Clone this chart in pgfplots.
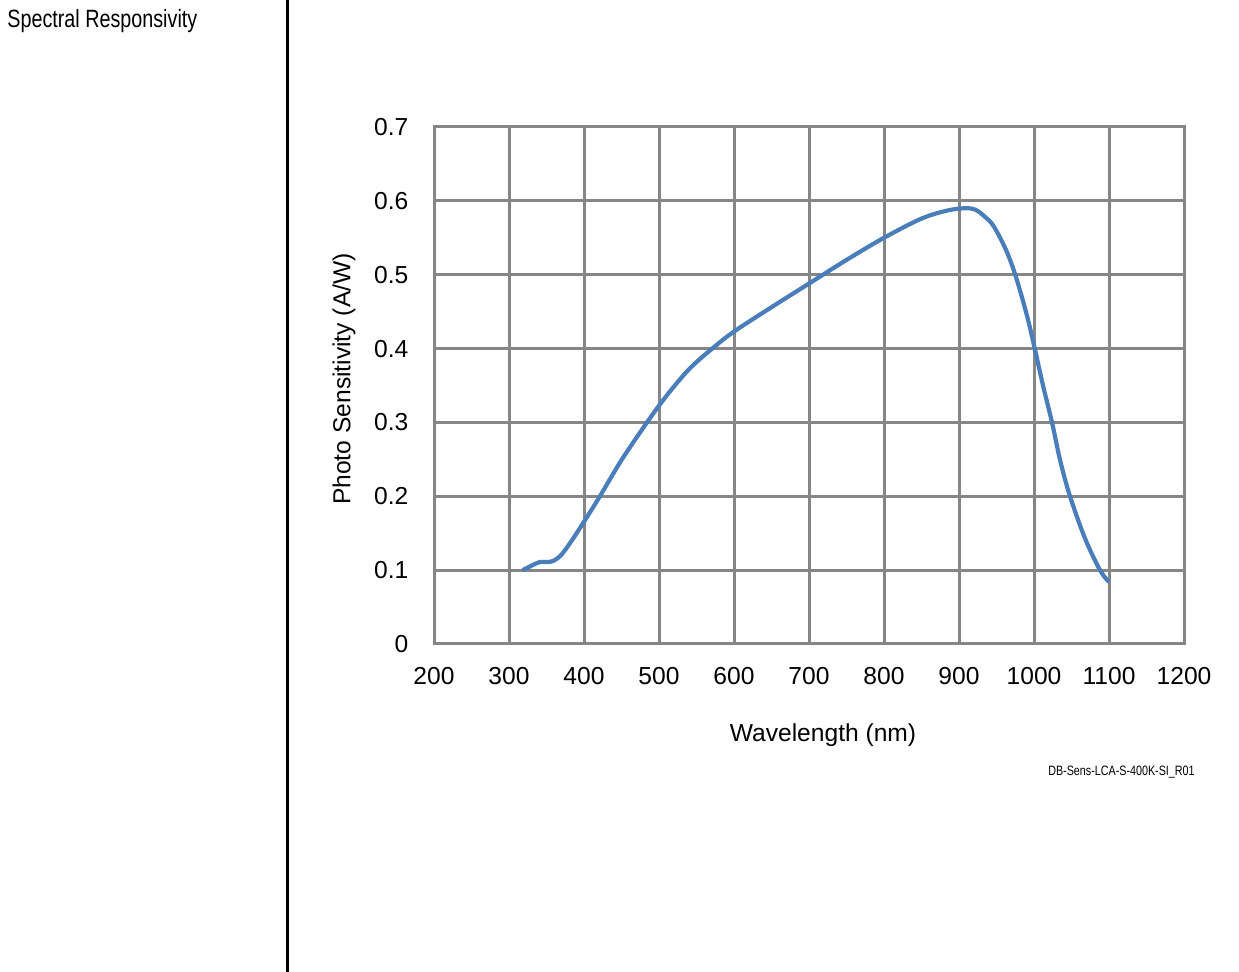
\documentclass[border=0pt]{standalone}
\usepackage{pgfplots}
\pgfplotsset{compat=1.18}
\usepackage{fontspec}
\setmainfont{Liberation Sans}
\newfontfamily\condfont[FakeStretch=0.79]{Liberation Sans}
\definecolor{gridgray}{RGB}{134,134,134}
\definecolor{curveblue}{RGB}{74,126,187}
\begin{document}
\fontsize{12.3bp}{14bp}\selectfont
\begin{tikzpicture}
\path[use as bounding box] (0,0) rectangle (619.5bp,486bp);
\draw[black, line width=1.5bp] (143.5bp,0) -- (143.5bp,486bp);
\node[anchor=base west, inner sep=0, font=\condfont\fontsize{12.5bp}{14bp}\selectfont] at (3.5bp,472bp) {Spectral Responsivity};
\node[anchor=base east, inner sep=0, font=\condfont\fontsize{6.8bp}{8bp}\selectfont] at (597.5bp,98bp) {DB-Sens-LCA-S-400K-SI\_R01};
\begin{axis}[
  at={(217bp,164bp)}, anchor=south west,
  scale only axis, width=375bp, height=258.5bp,
  xmin=200, xmax=1200, ymin=0, ymax=0.7,
  xtick={200,300,...,1200},
  ytick={0,0.1,0.2,0.3,0.4,0.5,0.6,0.7},
  yticklabels={0,0.1,0.2,0.3,0.4,0.5,0.6,0.7},
  /pgf/number format/assume math mode=true,
  /pgf/number format/1000 sep={},
  major tick length=0pt,
  grid=major,
  grid style={gridgray, line width=1.5bp},
  axis line style={gridgray, line width=1.5bp},
  xticklabel style={yshift=-7.5bp, font=\fontsize{12.3bp}{14bp}\selectfont},
  yticklabel style={xshift=-8.5bp, font=\fontsize{12.3bp}{14bp}\selectfont},
  xlabel={Wavelength (nm)},
  ylabel={Photo Sensitivity (A/W)},
  every axis x label/.style={at={(axis description cs:0.5,0)}, anchor=center, xshift=7bp, yshift=-45.5bp, font=\fontsize{12.3bp}{14bp}\selectfont},
  every axis y label/.style={at={(axis description cs:0,0.5)}, anchor=center, rotate=90, xshift=3.25bp, yshift=45bp, font=\fontsize{12.3bp}{14bp}\selectfont},
  clip=false,
]
\addplot[curveblue, line width=2.1bp, smooth, tension=0.55] coordinates {
(318,0.100) (330,0.106) (341,0.111) (352,0.111) (360,0.113) (370,0.121) (383,0.139) (399,0.164)
(420,0.198) (450,0.249) (484,0.300) (510,0.336) (540,0.372) (571,0.400) (600,0.423)
(650,0.456) (700,0.488) (750,0.520) (800,0.550) (850,0.576) (885,0.587) (908,0.590)
(922,0.588) (935,0.578) (946,0.566) (962,0.535) (975,0.500) (990,0.447)
(1001,0.400) (1012,0.350) (1024,0.300) (1035,0.248) (1048,0.200) (1068,0.143) (1088,0.100) (1100,0.084)
};
\end{axis}
\end{tikzpicture}
\end{document}
